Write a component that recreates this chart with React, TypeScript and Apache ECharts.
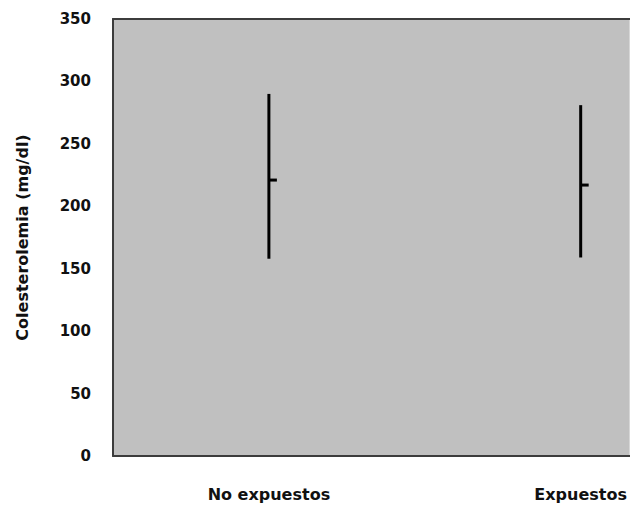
import React, { useEffect, useRef } from "react";
import * as echarts from "echarts";

const categories = ["No expuestos", "Expuestos"];
const highs = [290, 281];
const lows = [158, 159];
const means = [221, 217];
const yTicks = { min: 0, max: 350, interval: 50 };

export default function App() {
  const ref = useRef<HTMLDivElement>(null);
  useEffect(() => {
    if (!ref.current) return;
    const chart = echarts.init(ref.current, null, { renderer: "svg" });
    const font = "'DejaVu Sans', sans-serif";
    const data = categories.map((_, i) => [i, lows[i], highs[i], means[i]]);
    const labelStyle = { fontSize: 15, fontWeight: "bold", color: "#111", fontFamily: font };
    const border = { show: true, lineStyle: { color: "#3c3c3c", width: 2 } };
    chart.setOption({
      animation: false,
      backgroundColor: "#ffffff",
      grid: {
        left: 113,
        top: 19,
        right: 0,
        bottom: 51,
        show: true,
        backgroundColor: "#c0c0c0",
        borderColor: "#c0c0c0",
        borderWidth: 0,
      },
      xAxis: [
        {
          type: "value",
          min: -0.5,
          max: 1.157,
          axisLine: { ...border, onZero: false },
          axisTick: { show: false },
          splitLine: { show: false },
          axisLabel: {
            ...labelStyle,
            fontSize: 16,
            margin: 30,
            customValues: [0, 1],
            formatter: (v: number) => categories[Math.round(v)] ?? "",
          },
        },
        {
          type: "value",
          position: "top",
          min: -0.5,
          max: 1.157,
          axisLine: { ...border, onZero: false },
          axisTick: { show: false },
          splitLine: { show: false },
          axisLabel: { show: false },
        },
      ],
      yAxis: {
        type: "value",
        min: yTicks.min,
        max: yTicks.max,
        interval: yTicks.interval,
        name: "Colesterolemia (mg/dl)",
        nameLocation: "middle",
        nameGap: 83,
        nameTextStyle: { ...labelStyle, fontSize: 16 },
        axisLine: { ...border, onZero: false },
        axisTick: { show: false },
        splitLine: { show: false },
        axisLabel: { ...labelStyle, margin: 22 },
      },
      series: [
        {
          type: "custom",
          data,
          renderItem: (params: any, api: any) => {
            const x = api.value(0);
            const low = api.coord([x, api.value(1)]);
            const high = api.coord([x, api.value(2)]);
            const mean = api.coord([x, api.value(3)]);
            return {
              type: "group",
              children: [
                {
                  type: "line",
                  shape: { x1: low[0], y1: low[1], x2: high[0], y2: high[1] },
                  style: { stroke: "#000", lineWidth: 3 },
                },
                {
                  type: "line",
                  shape: { x1: mean[0], y1: mean[1], x2: mean[0] + 8, y2: mean[1] },
                  style: { stroke: "#000", lineWidth: 3 },
                },
              ],
            };
          },
        },
      ],
    });
    return () => chart.dispose();
  }, []);
  return (
    <div
      ref={ref}
      style={{ width: 630, height: 507, position: "fixed", left: 0, top: 0 }}
    />
  );
}
